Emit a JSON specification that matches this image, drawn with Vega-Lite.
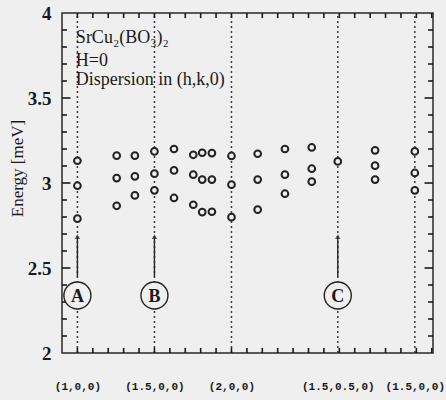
{
  "$schema": "https://vega.github.io/schema/vega-lite/v6.json",
  "width": 371,
  "height": 340,
  "autosize": "none",
  "padding": {"left": 62, "top": 13, "right": 13, "bottom": 47},
  "background": "#efefef",
  "config": {
    "view": {"stroke": "#2a2a2a", "strokeWidth": 1.5},
    "axis": {"domain": false, "ticks": false, "grid": false, "labelFont": "Liberation Serif", "titleFont": "Liberation Serif", "labelColor": "#1a1a1a", "titleColor": "#1a1a1a"}
  },
  "datasets": {
    "lines": [{"s": 0}, {"s": 0.5}, {"s": 1.0}, {"s": 1.69}, {"s": 2.19}],
    "pts": [
      {"s": 0, "e": 3.131}, {"s": 0, "e": 2.984}, {"s": 0, "e": 2.79},
      {"s": 0.255, "e": 3.161}, {"s": 0.255, "e": 3.029}, {"s": 0.255, "e": 2.866},
      {"s": 0.373, "e": 3.161}, {"s": 0.373, "e": 3.039}, {"s": 0.373, "e": 2.927},
      {"s": 0.5, "e": 3.186}, {"s": 0.5, "e": 3.055}, {"s": 0.5, "e": 2.957},
      {"s": 0.627, "e": 3.2}, {"s": 0.627, "e": 3.074}, {"s": 0.627, "e": 2.912},
      {"s": 0.752, "e": 3.166}, {"s": 0.752, "e": 3.049}, {"s": 0.752, "e": 2.872},
      {"s": 0.81, "e": 3.178}, {"s": 0.81, "e": 3.02}, {"s": 0.81, "e": 2.829},
      {"s": 0.873, "e": 3.176}, {"s": 0.873, "e": 3.02}, {"s": 0.873, "e": 2.831},
      {"s": 1.0, "e": 3.159}, {"s": 1.0, "e": 2.99}, {"s": 1.0, "e": 2.799},
      {"s": 1.17, "e": 3.172}, {"s": 1.17, "e": 3.02}, {"s": 1.17, "e": 2.843},
      {"s": 1.347, "e": 3.2}, {"s": 1.347, "e": 3.049}, {"s": 1.347, "e": 2.937},
      {"s": 1.521, "e": 3.209}, {"s": 1.521, "e": 3.084}, {"s": 1.521, "e": 3.008},
      {"s": 1.69, "e": 3.127},
      {"s": 1.932, "e": 3.192}, {"s": 1.932, "e": 3.102}, {"s": 1.932, "e": 3.02},
      {"s": 2.19, "e": 3.186}, {"s": 2.19, "e": 3.059}, {"s": 2.19, "e": 2.957}
    ],
    "marks": [
      {"s": 0, "letter": "A"}, {"s": 0.5, "letter": "B"}, {"s": 1.69, "letter": "C"}
    ],
    "notes": [
      {"s": -0.01, "e": 3.855, "t": "SrCu₂(BO₃)₂"},
      {"s": -0.01, "e": 3.72, "t": "H=0"},
      {"s": -0.01, "e": 3.605, "t": "Dispersion in (h,k,0)"}
    ],
    "yminor": [{"v": 2.1}, {"v": 2.2}, {"v": 2.3}, {"v": 2.4}, {"v": 2.6}, {"v": 2.7}, {"v": 2.8}, {"v": 2.9}, {"v": 3.1}, {"v": 3.2}, {"v": 3.3}, {"v": 3.4}, {"v": 3.6}, {"v": 3.7}, {"v": 3.8}, {"v": 3.9}],
    "ymajor": [{"v": 2.5}, {"v": 3.0}, {"v": 3.5}],
    "xminor": [{"v": 0}, {"v": 0.1}, {"v": 0.2}, {"v": 0.3}, {"v": 0.4}, {"v": 0.5}, {"v": 0.6}, {"v": 0.7}, {"v": 0.8}, {"v": 0.9}, {"v": 1.0}, {"v": 1.1}, {"v": 1.2}, {"v": 1.3}, {"v": 1.4}, {"v": 1.5}, {"v": 1.6}, {"v": 1.7}, {"v": 1.8}, {"v": 1.9}, {"v": 2.0}, {"v": 2.1}, {"v": 2.2}, {"v": 2.3}]
  },
  "resolve": {"axis": {"x": "independent", "y": "independent"}},
  "layer": [
    {
      "data": {"name": "lines"},
      "mark": {"type": "rule", "stroke": "#3a3a3a", "strokeWidth": 1.5, "strokeDash": [2, 3]},
      "encoding": {
        "x": {"field": "s", "type": "quantitative", "scale": {"domain": [-0.1, 2.308], "nice": false, "zero": false},
          "axis": {"orient": "bottom", "title": null, "values": [0, 0.5, 1.0, 1.69, 2.19], "labelPadding": 27, "labelFont": "Liberation Mono", "labelFontWeight": "bold", "labelFontSize": 11, "labelFlush": false, "labelOverlap": false,
            "labelExpr": "datum.value < 0.25 ? '(1,0,0)' : datum.value < 0.75 ? '(1.5,0,0)' : datum.value < 1.3 ? '(2,0,0)' : datum.value < 2 ? '(1.5,0.5,0)' : '(1.5,0,0)'"}},
        "y": {"datum": 2, "type": "quantitative", "scale": {"domain": [2, 4], "nice": false, "zero": false},
          "axis": {"orient": "left", "title": "Energy [meV]", "values": [2, 2.5, 3, 3.5, 4], "labelPadding": 11, "labelFontSize": 19, "labelFontWeight": "bold", "labelFlush": false, "labelExpr": "datum.value == 4 ? '4' : datum.value == 3 ? '3' : datum.value == 2 ? '2' : datum.label", "titleFontSize": 17, "titleFontWeight": "normal", "titleX": -45, "titleY": 155, "titleBaseline": "middle", "titleAlign": "center", "titleAngle": -90}},
        "y2": {"datum": 4}
      }
    },
    {
      "data": {"name": "yminor"},
      "mark": {"type": "rule", "stroke": "#1a1a1a", "strokeWidth": 1.6, "opacity": 1},
      "encoding": {"x": {"datum": -0.1, "type": "quantitative", "axis": null}, "x2": {"datum": -0.068}, "y": {"field": "v", "type": "quantitative", "axis": null}}
    },
    {
      "data": {"name": "yminor"},
      "mark": {"type": "rule", "stroke": "#1a1a1a", "strokeWidth": 1.6, "opacity": 1},
      "encoding": {"x": {"datum": 2.276, "type": "quantitative", "axis": null}, "x2": {"datum": 2.308}, "y": {"field": "v", "type": "quantitative", "axis": null}}
    },
    {
      "data": {"name": "ymajor"},
      "mark": {"type": "rule", "stroke": "#1a1a1a", "strokeWidth": 1.6, "opacity": 1},
      "encoding": {"x": {"datum": -0.1, "type": "quantitative", "axis": null}, "x2": {"datum": -0.045}, "y": {"field": "v", "type": "quantitative", "axis": null}}
    },
    {
      "data": {"name": "ymajor"},
      "mark": {"type": "rule", "stroke": "#1a1a1a", "strokeWidth": 1.6, "opacity": 1},
      "encoding": {"x": {"datum": 2.253, "type": "quantitative", "axis": null}, "x2": {"datum": 2.308}, "y": {"field": "v", "type": "quantitative", "axis": null}}
    },
    {
      "data": {"name": "xminor"},
      "mark": {"type": "rule", "stroke": "#1a1a1a", "strokeWidth": 1.6, "opacity": 1},
      "encoding": {"x": {"field": "v", "type": "quantitative", "axis": null}, "y": {"datum": 2, "type": "quantitative", "axis": null}, "y2": {"datum": 2.03}}
    },
    {
      "data": {"name": "xminor"},
      "mark": {"type": "rule", "stroke": "#1a1a1a", "strokeWidth": 1.6, "opacity": 1},
      "encoding": {"x": {"field": "v", "type": "quantitative", "axis": null}, "y": {"datum": 3.97, "type": "quantitative", "axis": null}, "y2": {"datum": 4}}
    },
    {
      "data": {"name": "pts"},
      "mark": {"type": "point", "filled": true, "fill": "#efefef", "stroke": "#222222", "strokeWidth": 2, "size": 45, "opacity": 1},
      "encoding": {
        "x": {"field": "s", "type": "quantitative", "axis": null},
        "y": {"field": "e", "type": "quantitative", "axis": null}
      }
    },
    {
      "data": {"name": "marks"},
      "mark": {"type": "rule", "stroke": "#222222", "strokeWidth": 1.4},
      "encoding": {
        "x": {"field": "s", "type": "quantitative", "axis": null},
        "y": {"datum": 2.45, "type": "quantitative", "axis": null},
        "y2": {"datum": 2.68}
      }
    },
    {
      "data": {"name": "marks"},
      "mark": {"type": "point", "shape": "triangle-up", "filled": true, "fill": "#222222", "stroke": null, "size": 30},
      "encoding": {
        "x": {"field": "s", "type": "quantitative", "axis": null},
        "y": {"datum": 2.685, "type": "quantitative", "axis": null}
      }
    },
    {
      "data": {"name": "marks"},
      "mark": {"type": "point", "shape": "circle", "filled": true, "fill": "#efefef", "stroke": "#222222", "strokeWidth": 1.4, "size": 730, "opacity": 1},
      "encoding": {
        "x": {"field": "s", "type": "quantitative", "axis": null},
        "y": {"datum": 2.338, "type": "quantitative", "axis": null}
      }
    },
    {
      "data": {"name": "marks"},
      "mark": {"type": "text", "font": "Liberation Serif", "fontSize": 18, "fontWeight": "bold", "color": "#1a1a1a", "baseline": "middle", "align": "center", "dy": 1},
      "encoding": {
        "x": {"field": "s", "type": "quantitative", "axis": null},
        "y": {"datum": 2.338, "type": "quantitative", "axis": null},
        "text": {"field": "letter"}
      }
    },
    {
      "data": {"name": "notes"},
      "mark": {"type": "text", "font": "Liberation Serif", "fontSize": 18, "color": "#1a1a1a", "baseline": "middle", "align": "left"},
      "encoding": {
        "x": {"field": "s", "type": "quantitative", "axis": null},
        "y": {"field": "e", "type": "quantitative", "axis": null},
        "text": {"field": "t"}
      }
    }
  ]
}
